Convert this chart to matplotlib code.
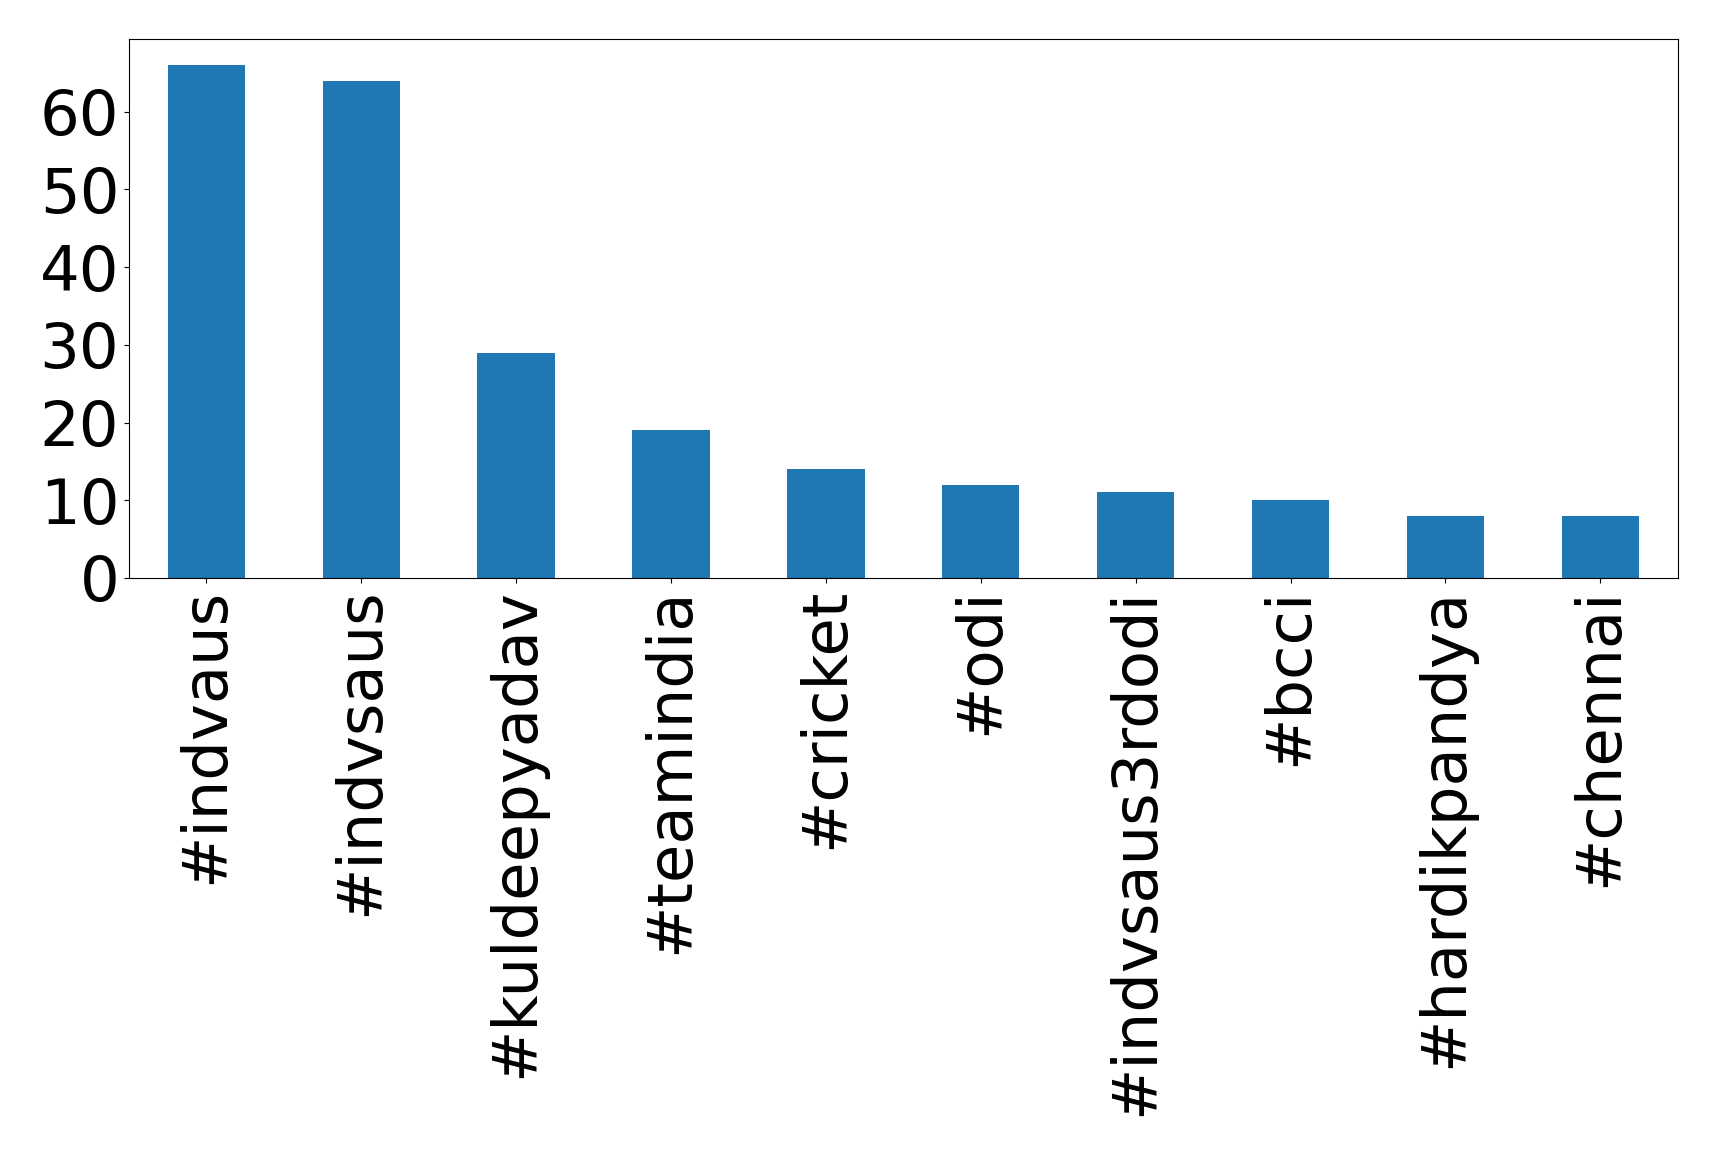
import matplotlib
matplotlib.use('Agg')
import matplotlib.pyplot as plt
import pandas as pd

# hashtag counts
tags = ['#indvaus', '#indvsaus', '#kuldeepyadav', '#teamindia', '#cricket',
        '#odi', '#indvsaus3rdodi', '#bcci', '#hardikpandya', '#chennai']
counts = [66, 64, 29, 19, 14, 12, 11, 10, 8, 8]

s = pd.Series(counts, index=tags)

fig = plt.figure(figsize=(17.19, 11.56), dpi=100)
ax = fig.add_axes([0.075, 0.5, 0.901, 0.466])
s.plot(kind='bar', ax=ax, fontsize=45, color='#1f77b4')
ax.set_xlim(-0.5, len(tags) - 0.5)
fig.savefig('out.png', dpi=100)
